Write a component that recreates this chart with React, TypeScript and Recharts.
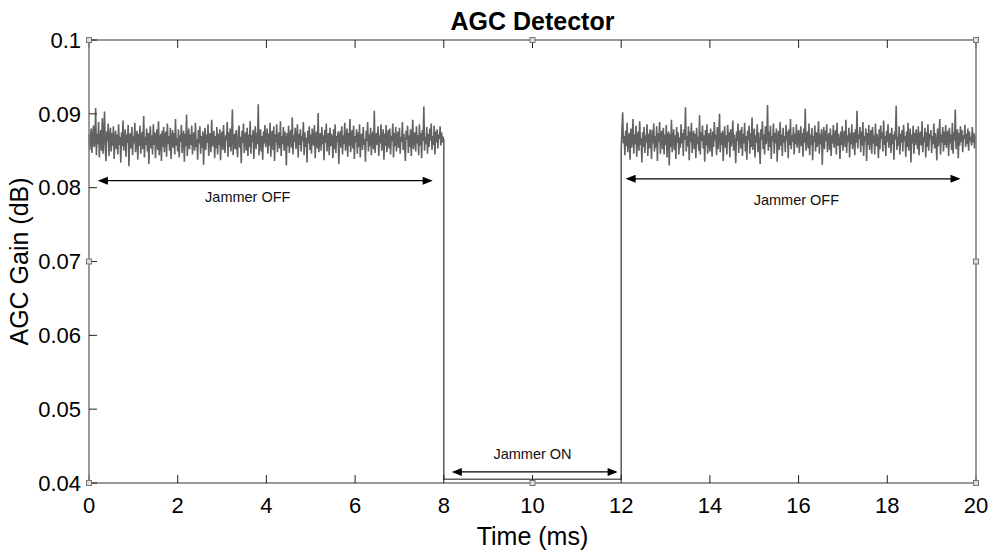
import {
    LineChart,
    Line,
    XAxis,
    YAxis,
    ReferenceLine,
    ReferenceDot,
    Label,
} from "recharts";

const FONT = '"Liberation Sans", Arial, sans-serif';

// AGC gain samples, jammer off (0 - 8 ms)
const jammerOffA = [
    0.0872, 0.0851, 0.0866, 0.0880, 0.0847, 0.0869, 0.0884, 0.0855, 0.0862, 0.0908, 0.0844, 0.0873, 0.0859, 0.0889, 0.0841, 0.0867, 0.0878, 0.0850, 0.0894, 0.0846,
    0.0871, 0.0903, 0.0854, 0.0836, 0.0876, 0.0863, 0.0887, 0.0843, 0.0868, 0.0881, 0.0849, 0.0874, 0.0857, 0.0883, 0.0839, 0.0866, 0.0877, 0.0852, 0.0872, 0.0845,
    0.0886, 0.0858, 0.0869, 0.0834, 0.0875, 0.0856, 0.0891, 0.0850, 0.0867, 0.0879, 0.0842, 0.0872, 0.0861, 0.0885, 0.0829, 0.0868, 0.0874, 0.0853, 0.0882, 0.0844,
    0.0870, 0.0860, 0.0888, 0.0848, 0.0866, 0.0877, 0.0838, 0.0873, 0.0857, 0.0884, 0.0846, 0.0865, 0.0876, 0.0852, 0.0897, 0.0841, 0.0869, 0.0858, 0.0880, 0.0849,
    0.0874, 0.0832, 0.0867, 0.0883, 0.0853, 0.0871, 0.0845, 0.0886, 0.0858, 0.0875, 0.0840, 0.0868, 0.0879, 0.0851, 0.0890, 0.0844, 0.0864, 0.0873, 0.0836, 0.0877,
    0.0855, 0.0882, 0.0848, 0.0869, 0.0876, 0.0842, 0.0887, 0.0859, 0.0870, 0.0850, 0.0881, 0.0839, 0.0866, 0.0878, 0.0854, 0.0874, 0.0845, 0.0893, 0.0857, 0.0867,
    0.0849, 0.0879, 0.0841, 0.0871, 0.0862, 0.0885, 0.0847, 0.0868, 0.0877, 0.0835, 0.0873, 0.0856, 0.0899, 0.0843, 0.0866, 0.0880, 0.0852, 0.0872, 0.0858, 0.0884,
    0.0845, 0.0869, 0.0875, 0.0850, 0.0888, 0.0855, 0.0866, 0.0838, 0.0878, 0.0860, 0.0883, 0.0846, 0.0870, 0.0854, 0.0876, 0.0831, 0.0867, 0.0881, 0.0851, 0.0872,
    0.0861, 0.0886, 0.0843, 0.0868, 0.0874, 0.0848, 0.0892, 0.0856, 0.0865, 0.0877, 0.0840, 0.0870, 0.0853, 0.0882, 0.0845, 0.0873, 0.0858, 0.0879, 0.0837, 0.0869,
    0.0876, 0.0851, 0.0885, 0.0860, 0.0847, 0.0871, 0.0864, 0.0889, 0.0842, 0.0875, 0.0855, 0.0880, 0.0849, 0.0868, 0.0906, 0.0844, 0.0864, 0.0873, 0.0852, 0.0878,
    0.0858, 0.0841, 0.0874, 0.0884, 0.0854, 0.0869, 0.0833, 0.0877, 0.0861, 0.0887, 0.0847, 0.0866, 0.0875, 0.0850, 0.0881, 0.0843, 0.0872, 0.0855, 0.0890, 0.0846,
    0.0871, 0.0862, 0.0878, 0.0839, 0.0868, 0.0883, 0.0852, 0.0874, 0.0859, 0.0913, 0.0844, 0.0867, 0.0879, 0.0849, 0.0870, 0.0838, 0.0876, 0.0860, 0.0885, 0.0855,
    0.0864, 0.0880, 0.0846, 0.0873, 0.0857, 0.0888, 0.0842, 0.0869, 0.0877, 0.0851, 0.0883, 0.0836, 0.0872, 0.0861, 0.0886, 0.0848, 0.0866, 0.0875, 0.0853, 0.0890,
    0.0843, 0.0870, 0.0859, 0.0882, 0.0850, 0.0876, 0.0865, 0.0830, 0.0874, 0.0856, 0.0884, 0.0847, 0.0869, 0.0878, 0.0854, 0.0895, 0.0845, 0.0871, 0.0862, 0.0881,
    0.0852, 0.0867, 0.0886, 0.0841, 0.0873, 0.0858, 0.0879, 0.0849, 0.0870, 0.0863, 0.0889, 0.0844, 0.0875, 0.0855, 0.0868, 0.0834, 0.0877, 0.0860, 0.0883, 0.0851,
    0.0872, 0.0846, 0.0880, 0.0864, 0.0857, 0.0885, 0.0840, 0.0869, 0.0876, 0.0853, 0.0901, 0.0848, 0.0866, 0.0874, 0.0850, 0.0882, 0.0859, 0.0871, 0.0837, 0.0878,
    0.0861, 0.0887, 0.0849, 0.0868, 0.0874, 0.0844, 0.0881, 0.0856, 0.0873, 0.0865, 0.0840, 0.0879, 0.0852, 0.0886, 0.0847, 0.0870, 0.0862, 0.0876, 0.0832, 0.0869,
    0.0877, 0.0854, 0.0883, 0.0845, 0.0871, 0.0859, 0.0888, 0.0850, 0.0867, 0.0880, 0.0842, 0.0874, 0.0857, 0.0893, 0.0848, 0.0866, 0.0878, 0.0853, 0.0884, 0.0839,
    0.0870, 0.0862, 0.0879, 0.0846, 0.0875, 0.0855, 0.0886, 0.0841, 0.0868, 0.0873, 0.0851, 0.0882, 0.0858, 0.0866, 0.0835, 0.0877, 0.0863, 0.0889, 0.0849, 0.0872,
    0.0856, 0.0881, 0.0844, 0.0869, 0.0876, 0.0852, 0.0904, 0.0847, 0.0865, 0.0874, 0.0858, 0.0883, 0.0843, 0.0871, 0.0860, 0.0886, 0.0850, 0.0867, 0.0879, 0.0838,
    0.0873, 0.0857, 0.0885, 0.0848, 0.0866, 0.0878, 0.0853, 0.0880, 0.0845, 0.0870, 0.0863, 0.0887, 0.0841, 0.0874, 0.0856, 0.0882, 0.0849, 0.0868, 0.0876, 0.0854,
    0.0881, 0.0846, 0.0869, 0.0862, 0.0889, 0.0851, 0.0873, 0.0858, 0.0836, 0.0877, 0.0865, 0.0884, 0.0847, 0.0871, 0.0855, 0.0879, 0.0843, 0.0867, 0.0892, 0.0852,
    0.0868, 0.0875, 0.0849, 0.0883, 0.0860, 0.0871, 0.0844, 0.0886, 0.0857, 0.0874, 0.0840, 0.0878, 0.0863, 0.0910, 0.0850, 0.0869, 0.0859, 0.0882, 0.0846, 0.0873,
    0.0855, 0.0880, 0.0864, 0.0887, 0.0851, 0.0870, 0.0858, 0.0884, 0.0845, 0.0876, 0.0862, 0.0879, 0.0853, 0.0872, 0.0866, 0.0883, 0.0857, 0.0875, 0.0861, 0.0869,
    0.0864,
];

// jammer on (8 - 12 ms)
const jammerOn = [0.0405, 0.0405, 0.0405, 0.0405, 0.0405];

// jammer off again (12 - 20 ms)
const jammerOffB = [
    0.0851, 0.0879, 0.0902, 0.0860, 0.0870, 0.0844, 0.0877, 0.0856, 0.0888, 0.0848, 0.0868, 0.0874, 0.0838, 0.0880, 0.0854, 0.0865, 0.0893, 0.0846, 0.0872, 0.0859,
    0.0884, 0.0842, 0.0869, 0.0876, 0.0850, 0.0890, 0.0858, 0.0867, 0.0834, 0.0875, 0.0855, 0.0882, 0.0847, 0.0871, 0.0861, 0.0886, 0.0843, 0.0873, 0.0853, 0.0879,
    0.0866, 0.0839, 0.0878, 0.0860, 0.0887, 0.0849, 0.0870, 0.0854, 0.0883, 0.0836, 0.0874, 0.0862, 0.0889, 0.0846, 0.0868, 0.0877, 0.0852, 0.0881, 0.0845, 0.0872,
    0.0858, 0.0885, 0.0841, 0.0869, 0.0876, 0.0830, 0.0873, 0.0855, 0.0892, 0.0848, 0.0866, 0.0879, 0.0851, 0.0871, 0.0839, 0.0882, 0.0861, 0.0875, 0.0845, 0.0868,
    0.0854, 0.0886, 0.0860, 0.0874, 0.0843, 0.0879, 0.0865, 0.0909, 0.0849, 0.0870, 0.0856, 0.0883, 0.0837, 0.0876, 0.0862, 0.0888, 0.0847, 0.0868, 0.0877, 0.0852,
    0.0873, 0.0840, 0.0881, 0.0859, 0.0869, 0.0850, 0.0898, 0.0845, 0.0875, 0.0863, 0.0884, 0.0853, 0.0871, 0.0835, 0.0878, 0.0857, 0.0886, 0.0846, 0.0867, 0.0874,
    0.0849, 0.0880, 0.0861, 0.0842, 0.0876, 0.0855, 0.0889, 0.0864, 0.0872, 0.0844, 0.0882, 0.0852, 0.0869, 0.0900, 0.0848, 0.0874, 0.0858, 0.0877, 0.0836, 0.0868,
    0.0883, 0.0854, 0.0871, 0.0845, 0.0885, 0.0862, 0.0875, 0.0841, 0.0879, 0.0856, 0.0867, 0.0891, 0.0850, 0.0872, 0.0859, 0.0833, 0.0876, 0.0863, 0.0887, 0.0847,
    0.0869, 0.0878, 0.0853, 0.0882, 0.0843, 0.0873, 0.0860, 0.0888, 0.0849, 0.0870, 0.0838, 0.0877, 0.0864, 0.0884, 0.0846, 0.0874, 0.0855, 0.0895, 0.0851, 0.0868,
    0.0880, 0.0841, 0.0871, 0.0861, 0.0886, 0.0848, 0.0875, 0.0858, 0.0832, 0.0879, 0.0865, 0.0890, 0.0852, 0.0872, 0.0845, 0.0883, 0.0859, 0.0869, 0.0912, 0.0850,
    0.0876, 0.0855, 0.0884, 0.0839, 0.0870, 0.0863, 0.0887, 0.0846, 0.0874, 0.0860, 0.0880, 0.0835, 0.0868, 0.0877, 0.0851, 0.0889, 0.0857, 0.0872, 0.0843, 0.0881,
    0.0861, 0.0870, 0.0848, 0.0885, 0.0864, 0.0876, 0.0840, 0.0879, 0.0858, 0.0893, 0.0852, 0.0871, 0.0862, 0.0882, 0.0845, 0.0873, 0.0859, 0.0886, 0.0854, 0.0869,
    0.0878, 0.0847, 0.0866, 0.0883, 0.0856, 0.0874, 0.0842, 0.0880, 0.0861, 0.0907, 0.0850, 0.0869, 0.0876, 0.0853, 0.0887, 0.0844, 0.0872, 0.0858, 0.0881, 0.0837,
    0.0870, 0.0862, 0.0884, 0.0849, 0.0875, 0.0855, 0.0868, 0.0890, 0.0846, 0.0873, 0.0859, 0.0879, 0.0831, 0.0866, 0.0882, 0.0852, 0.0877, 0.0863, 0.0886, 0.0848,
    0.0867, 0.0874, 0.0851, 0.0880, 0.0843, 0.0871, 0.0860, 0.0885, 0.0854, 0.0869, 0.0878, 0.0845, 0.0888, 0.0857, 0.0873, 0.0864, 0.0839, 0.0876, 0.0858, 0.0883,
    0.0850, 0.0868, 0.0877, 0.0855, 0.0892, 0.0847, 0.0871, 0.0862, 0.0881, 0.0841, 0.0874, 0.0859, 0.0886, 0.0852, 0.0869, 0.0875, 0.0844, 0.0879, 0.0861, 0.0904,
    0.0853, 0.0872, 0.0866, 0.0882, 0.0848, 0.0876, 0.0857, 0.0889, 0.0843, 0.0870, 0.0863, 0.0880, 0.0836, 0.0874, 0.0858, 0.0885, 0.0851, 0.0867, 0.0878, 0.0846,
    0.0882, 0.0860, 0.0871, 0.0845, 0.0887, 0.0856, 0.0873, 0.0864, 0.0840, 0.0879, 0.0852, 0.0884, 0.0866, 0.0875, 0.0849, 0.0891, 0.0858, 0.0870, 0.0843, 0.0877,
    0.0862, 0.0886, 0.0854, 0.0868, 0.0874, 0.0847, 0.0881, 0.0859, 0.0872, 0.0838, 0.0876, 0.0865, 0.0911, 0.0851, 0.0869, 0.0857, 0.0883, 0.0845, 0.0873, 0.0861,
    0.0878, 0.0849, 0.0885, 0.0863, 0.0870, 0.0842, 0.0876, 0.0855, 0.0888, 0.0850, 0.0867, 0.0880, 0.0834, 0.0872, 0.0860, 0.0884, 0.0846, 0.0874, 0.0858, 0.0879,
    0.0865, 0.0852, 0.0883, 0.0844, 0.0871, 0.0876, 0.0857, 0.0890, 0.0848, 0.0869, 0.0862, 0.0881, 0.0841, 0.0875, 0.0855, 0.0886, 0.0850, 0.0873, 0.0866, 0.0878,
    0.0847, 0.0870, 0.0859, 0.0887, 0.0853, 0.0874, 0.0863, 0.0837, 0.0880, 0.0856, 0.0868, 0.0893, 0.0845, 0.0872, 0.0861, 0.0882, 0.0849, 0.0876, 0.0858, 0.0885,
    0.0854, 0.0869, 0.0877, 0.0843, 0.0881, 0.0860, 0.0872, 0.0851, 0.0888, 0.0846, 0.0875, 0.0864, 0.0906, 0.0852, 0.0867, 0.0879, 0.0840, 0.0874, 0.0857, 0.0883,
    0.0862, 0.0878, 0.0848, 0.0871, 0.0866, 0.0885, 0.0855, 0.0873, 0.0859, 0.0880, 0.0850, 0.0876, 0.0863, 0.0869, 0.0857, 0.0882, 0.0861, 0.0874, 0.0853, 0.0868,
    0.0866,
];

const xTicks = [0, 2, 4, 6, 8, 10, 12, 14, 16, 18, 20];
const yTicks = [0.04, 0.05, 0.06, 0.07, 0.08, 0.09, 0.1];

// double arrows (ms from, ms to, level)
const arrowFrom = [0.2, 12.1, 8.18];
const arrowTo = [7.75, 19.65, 11.92];
const arrowLevel = [0.08095, 0.0812, 0.0415];

const noteText = ["Jammer OFF", "Jammer OFF", "Jammer ON"];
const noteX = [3.58, 15.95, 10.0];
const noteY = [0.0787, 0.0783, 0.0439];

// little square handles on the frame
const handleX = [0, 10, 20, 0, 20, 0, 10, 20];
const handleY = [0.1, 0.1, 0.1, 0.07, 0.07, 0.04, 0.04, 0.04];

const data = [
    ...jammerOffA.map((v, i) => ({ t: (i * 8) / (jammerOffA.length - 1), v })),
    ...jammerOn.map((v, i) => ({ t: 8 + (i * 4) / (jammerOn.length - 1), v })),
    ...jammerOffB.map((v, i) => ({ t: 12 + (i * 8) / (jammerOffB.length - 1), v })),
];

const ArrowShape = (p: any) => {
    const { x1, y1, x2, y2 } = p;
    const h = 10;
    const w = 4;
    return (
        <g>
            <line x1={x1 + 2} y1={y1} x2={x2 - 2} y2={y2} stroke="#000" strokeWidth={1.2} />
            <polygon points={`${x1},${y1} ${x1 + h},${y1 - w} ${x1 + h},${y1 + w}`} fill="#000" />
            <polygon points={`${x2},${y2} ${x2 - h},${y2 - w} ${x2 - h},${y2 + w}`} fill="#000" />
        </g>
    );
};

const tickStyle = { fill: "#000", fontSize: 22, fontFamily: FONT };

export default function App() {
    return (
        <div style={{ position: "absolute", left: 0, top: 0, width: 993, height: 551, background: "#fff" }}>
            <LineChart
                width={993}
                height={551}
                data={data}
                margin={{ top: 39, right: 16, bottom: 38, left: 29 }}
            >
                <XAxis
                    dataKey="t"
                    type="number"
                    domain={[0, 20]}
                    ticks={xTicks}
                    height={30}
                    tickSize={-8}
                    tickMargin={22}
                    axisLine={{ stroke: "#333" }}
                    tickLine={{ stroke: "#222" }}
                    tick={tickStyle}
                >
                    <Label
                        content={(p: any) => (
                            <text
                                x={p.viewBox.x + p.viewBox.width / 2}
                                y={p.viewBox.y + 62}
                                textAnchor="middle"
                                fontSize={25}
                                fontFamily={FONT}
                                fill="#000"
                            >
                                Time (ms)
                            </text>
                        )}
                    />
                </XAxis>
                <XAxis
                    xAxisId="top"
                    orientation="top"
                    dataKey="t"
                    type="number"
                    domain={[0, 20]}
                    ticks={xTicks}
                    height={1}
                    tickSize={-8}
                    tickFormatter={() => ""}
                    axisLine={{ stroke: "#333" }}
                    tickLine={{ stroke: "#222" }}
                >
                    <Label
                        content={(p: any) => (
                            <text
                                x={p.viewBox.x + p.viewBox.width / 2}
                                y={p.viewBox.y - 9}
                                textAnchor="middle"
                                fontSize={25}
                                fontWeight="bold"
                                fontFamily={FONT}
                                fill="#000"
                            >
                                AGC Detector
                            </text>
                        )}
                    />
                </XAxis>
                <YAxis
                    type="number"
                    domain={[0.04, 0.1]}
                    ticks={yTicks}
                    width={60}
                    tickSize={-8}
                    tickMargin={16}
                    axisLine={{ stroke: "#808080", strokeWidth: 1.6 }}
                    tickLine={{ stroke: "#222" }}
                    tick={tickStyle}
                >
                    <Label
                        content={(p: any) => (
                            <text
                                transform={`translate(${p.viewBox.x - 1}, ${p.viewBox.y + p.viewBox.height / 2}) rotate(-90)`}
                                textAnchor="middle"
                                fontSize={25}
                                fontFamily={FONT}
                                fill="#000"
                            >
                                AGC Gain (dB)
                            </text>
                        )}
                    />
                </YAxis>
                <YAxis
                    yAxisId="right"
                    orientation="right"
                    type="number"
                    domain={[0.04, 0.1]}
                    ticks={yTicks}
                    width={1}
                    tickSize={-8}
                    tickFormatter={() => ""}
                    axisLine={{ stroke: "#808080", strokeWidth: 1.6 }}
                    tickLine={{ stroke: "#222" }}
                />

                <Line
                    type="linear"
                    dataKey="v"
                    stroke="#626262"
                    strokeWidth={1.6}
                    dot={false}
                    isAnimationActive={false}
                />

                {arrowFrom.map((x0, i) => (
                    <ReferenceLine
                        key={"arrow" + i}
                        segment={[
                            { x: x0, y: arrowLevel[i] },
                            { x: arrowTo[i], y: arrowLevel[i] },
                        ]}
                        shape={ArrowShape}
                    />
                ))}

                {noteText.map((txt, i) => (
                    <ReferenceDot
                        key={"note" + i}
                        x={noteX[i]}
                        y={noteY[i]}
                        r={0}
                        shape={(p: any) => (
                            <text
                                x={p.cx}
                                y={p.cy}
                                textAnchor="middle"
                                dominantBaseline="central"
                                fontSize={14.5}
                                fontFamily={FONT}
                                fill="#111"
                            >
                                {txt}
                            </text>
                        )}
                    />
                ))}

                {handleX.map((hx, i) => (
                    <ReferenceDot
                        key={"handle" + i}
                        x={hx}
                        y={handleY[i]}
                        r={3}
                        shape={(p: any) => (
                            <rect
                                x={p.cx - 2.5}
                                y={p.cy - 2.5}
                                width={5}
                                height={5}
                                fill="#ddd"
                                stroke="#777"
                                strokeWidth={1}
                            />
                        )}
                    />
                ))}
            </LineChart>
        </div>
    );
}
